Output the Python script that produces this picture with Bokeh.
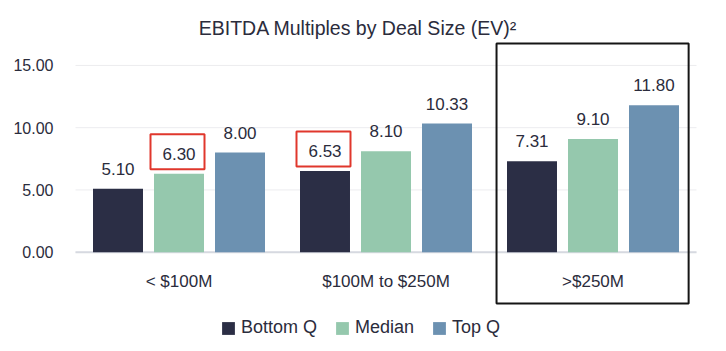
from bokeh.plotting import figure
from bokeh.models import Range1d, BoxAnnotation, ColumnDataSource
from bokeh.core.properties import value
from bokeh.embed import file_html
from bokeh.resources import INLINE

# ---------------- data ----------------
groups = ["< $100M", "$100M to $250M", ">$250M"]
series = ["Bottom Q", "Median", "Top Q"]
bottom_q = [5.10, 6.53, 7.31]
median = [6.30, 8.10, 9.10]
top_q = [8.00, 10.33, 11.80]
y_ticks = [0, 5, 10, 15]
# highlighted (red-boxed) values: (group, series)
highlight_groups = ["< $100M", "$100M to $250M"]
highlight_series = ["Median", "Bottom Q"]
boxed_group = ">$250M"
title_text = "EBITDA Multiples by Deal Size (EV)\u00b2"

# ---------------- style / layout ----------------
FONT = "Liberation Sans"
TEXT = "#2b2c3c"
COLORS = ["#2b2e45", "#95c8ad", "#6c91b1"]
RED = "#e0372c"
W, H = 726, 351
PLOT_LEFT = 75          # px where the first group starts
GROUP_PX = 207          # px per group
ZERO_PX = 251.7         # px (from top) of the zero line
PPU = 12.45             # px per y unit
OFFSETS = [-0.2947, 0.0, 0.2947]
BAR_W = 0.2415

X0 = -PLOT_LEFT / GROUP_PX
X1 = (W - PLOT_LEFT) / GROUP_PX
Y0 = -(H - ZERO_PX) / PPU
Y1 = ZERO_PX / PPU

p = figure(width=W, height=H, x_range=Range1d(X0, X1), y_range=Range1d(Y0, Y1),
           x_axis_type=None, y_axis_type=None,
           min_border=0, min_border_left=0, min_border_right=0,
           min_border_top=0, min_border_bottom=0,
           output_backend="svg", toolbar_location=None)
p.outline_line_color = None
p.background_fill_color = "white"
p.border_fill_color = "white"

centers = [i + 0.5 for i in range(len(groups))]
n_groups = len(groups)

# grid lines
grid_src = ColumnDataSource(dict(x0=[0] * len(y_ticks), x1=[n_groups] * len(y_ticks),
                                 y=y_ticks, label=["%.2f" % t for t in y_ticks]))
p.segment(x0="x0", y0="y", x1="x1", y1="y", source=grid_src,
          line_color="#ececef", line_width=1)
p.segment(x0=[0], y0=[0], x1=[n_groups], y1=[0], line_color="#d6d9e0", line_width=2)
# y tick labels
p.text(x="x0", y="y", text="label", source=grid_src, x_offset=-22,
       text_align="right", text_baseline="middle",
       text_font=value(FONT), text_font_size="16px", text_color=TEXT)

values_by_series = dict(zip(series, [bottom_q, median, top_q]))

for name, color, off in zip(series, COLORS, OFFSETS):
    vals = values_by_series[name]
    src = ColumnDataSource(dict(x=[c + off for c in centers], y=vals,
                                label=["%.2f" % v for v in vals]))
    p.vbar(x="x", top="y", bottom=0, width=BAR_W, source=src,
           fill_color=color, line_color=None, legend_label=name)
    p.text(x="x", y="y", text="label", source=src,
           text_align="center", text_baseline="middle", y_offset=-20,
           text_font=value(FONT), text_font_size="17px", text_color=TEXT)

# category labels
cat_src = ColumnDataSource(dict(x=centers, y=[0] * n_groups, label=groups))
p.text(x="x", y="y", text="label", source=cat_src, y_offset=29,
       text_align="center", text_baseline="middle",
       text_font=value(FONT), text_font_size="17px", text_color=TEXT)

# red highlight boxes
hx, hy = [], []
for g, s in zip(highlight_groups, highlight_series):
    gi = groups.index(g)
    hx.append(centers[gi] + OFFSETS[series.index(s)] - 1.5 / GROUP_PX)
    hy.append(values_by_series[s][gi] + 22.0 / PPU)
p.rect(x=hx, y=hy, width=54, height=35, width_units="screen", height_units="screen",
       fill_color=None, line_color=RED, line_width=2)

# black box around the >$250M group
bi = groups.index(boxed_group)
box = BoxAnnotation(left=centers[bi] - 0.466, right=centers[bi] + 0.462,
                    top=(ZERO_PX - 43) / PPU, bottom=-(303 - ZERO_PX) / PPU,
                    fill_color=None, fill_alpha=0,
                    line_color="#151515", line_width=2, line_alpha=1)
p.add_layout(box)

# title
p.text(x=[(357.5 - PLOT_LEFT) / GROUP_PX], y=[Y1], text=[title_text], y_offset=27,
       text_align="center", text_baseline="middle",
       text_font=value(FONT), text_font_size="19.5px", text_color=TEXT)

# legend
leg = p.legend[0]
leg.orientation = "horizontal"
leg.location = (220, 13)
leg.border_line_color = None
leg.background_fill_alpha = 0
leg.padding = 0
leg.margin = 0
leg.spacing = 17
leg.glyph_width = 16
leg.glyph_height = 16
leg.label_standoff = 5
leg.label_text_font = FONT
leg.label_text_font_size = "18px"
leg.label_text_color = TEXT

open("out.html", "w").write(file_html(p, INLINE))
